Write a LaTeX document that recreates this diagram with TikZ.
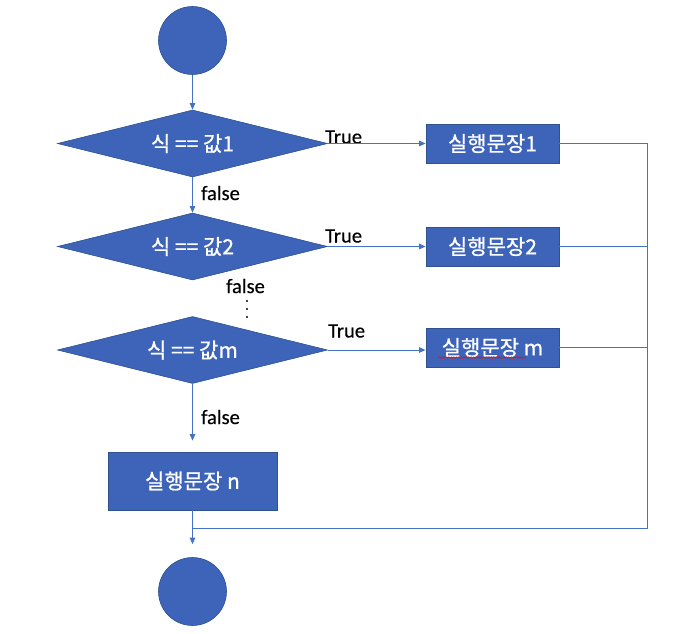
\documentclass[tikz,border=0pt]{standalone}
\usepackage{fontspec}
\setmainfont[FakeBold=0.4]{Carlito}
\newfontfamily\krfont[FakeBold=0.9]{Noto Sans CJK KR}
\usetikzlibrary{shapes.geometric,arrows.meta,calc,decorations.pathmorphing}
\definecolor{shapefill}{RGB}{61,100,184}
\definecolor{shapeedge}{RGB}{47,82,143}
\definecolor{linkcol}{RGB}{68,114,196}
\begin{document}
\begin{tikzpicture}[x=1pt,y=-1pt,
  startend/.style={circle,fill=shapefill,draw=shapeedge,line width=0.6pt,minimum size=68pt,inner sep=0pt},
  decision/.style={diamond,aspect=4,fill=shapefill,draw=shapeedge,line width=0.6pt,minimum width=270pt,minimum height=67pt,inner sep=0pt,text=white,font=\krfont\fontsize{21}{25}\selectfont},
  action/.style={rectangle,fill=shapefill,draw=shapeedge,line width=0.8pt,minimum width=133pt,minimum height=39pt,inner sep=0pt,text=white,font=\krfont\fontsize{21}{25}\selectfont},
  link/.style={draw=linkcol,line width=0.9pt},
  arr/.style={link,-{Triangle[width=5.5pt,length=6.5pt]}},
  lbl/.style={font=\fontsize{20.5}{24}\selectfont,inner sep=0pt,text=black}
]
\useasboundingbox (0,0) rectangle (697,634);

% shapes
\node[startend] (start) at (192.5,40.5) {};
\node[decision] (d1) at (192.5,143.5) {식 == 값1};
\node[decision] (d2) at (192.5,246.5) {식 == 값2};
\node[decision] (d3) at (192.5,350) {식 == 값m};
\node[action] (b1) at (492.5,143.5) {실행문장1};
\node[action] (b2) at (492.5,246.5) {실행문장2};
\node[action] (bm) at (492.5,347.5) {실행문장 m};
\node[action,minimum width=169pt,minimum height=58pt] (bn) at (192.5,481) {실행문장 n};
\node[startend] (end) at (192.5,591.5) {};

% labels
\node[lbl,anchor=west] (t1) at (325,137) {True};
\node[lbl,anchor=west] (t2) at (325,236) {True};
\node[lbl,anchor=west] (t3) at (328,331) {True};
\node[lbl,anchor=west] (f1) at (201,193) {false};
\node[lbl,anchor=west] (f2) at (226,286) {false};
\node[lbl,anchor=west] (f3) at (201,417) {false};
\fill[black] (247,301) circle (1.1) (247,309) circle (1.1) (247,317) circle (1.1);

% spell-check underline
\draw[red,line width=0.5pt,decorate,decoration={snake,amplitude=0.7pt,segment length=2.5pt}] (438,357.5) -- (526,357.5);

% connectors
\coordinate (rc) at (647.5,528);
\draw[arr] (start.south) -- (d1.north);
\draw[arr] (d1.south) -- (d2.north);
\draw[arr] (d1.east) -- (b1.west);
\draw[arr] (d2.east) -- (b2.west);
\draw[arr] (d3.east) -- (d3.east -| bm.west);
\draw[arr] (d3.south) -- ($(bn.north)+(0,-11)$);
\draw[link] (b1.east) -- (b1.east -| rc) -- (rc) -- (rc -| bn.south);
\draw[link] (b2.east) -- (b2.east -| rc);
\draw[link] (bm.east) -- (bm.east -| rc);
\draw[arr] (bn.south) -- ($(end.north)+(0,-13)$);
\end{tikzpicture}
\end{document}
